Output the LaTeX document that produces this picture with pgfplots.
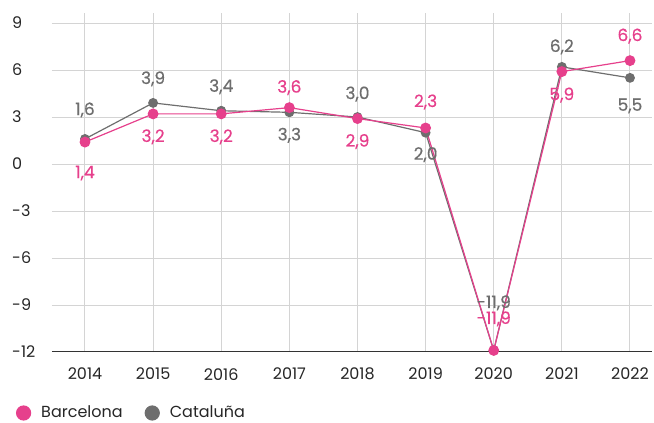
\documentclass[border=0pt]{standalone}
\usepackage{pgfplots}
\pgfplotsset{compat=1.18}
\usepackage{pgfplotstable}
\usepackage{fontspec}
\setmainfont{Poppins}
\newfontfamily\labfont{Poppins}[FakeBold=0.4]
\definecolor{pinkc}{HTML}{E6408C}
\definecolor{grayc}{HTML}{6E6E6E}
\definecolor{gridc}{HTML}{D4D4D4}
\definecolor{topgrid}{HTML}{E2E2E2}
\definecolor{axisc}{HTML}{333333}

\pgfplotstableread{
x y lab off
2014 1.4 1,4 -31
2015 3.2 3,2 -23
2016 3.2 3,2 -23
2017 3.6 3,6 20
2018 2.9 2,9 -23
2019 2.3 2,3 26
2020 -11.9 -11,9 31.5
2021 5.9 5,9 -23.5
2022 6.6 6,6 24.6
}\barcelona

\pgfplotstableread{
x y lab off
2014 1.6 1,6 29
2015 3.9 3,9 24
2016 3.4 3,4 24
2017 3.3 3,3 -23
2018 3.0 3,0 23
2019 2.0 2,0 -22
2020 -11.9 -11,9 47.5
2021 6.2 6,2 20
2022 5.5 5,5 -28
}\cataluna

\begin{document}
\fontsize{16}{19}\selectfont
\begin{tikzpicture}
\useasboundingbox (-52pt,-71pt) rectangle (602pt,352pt);
\begin{axis}[
  at={(0,0)}, anchor=south west,
  scale only axis, width=600pt, height=339pt,
  xmin=2013.516, xmax=2022.323,
  ymin=-12, ymax=9.64,
  clip=false,
  xtick={2014,2015,2016,2017,2018,2019,2020,2021,2022},
  xticklabels={2014,2015,2016,2017,2018,2019,2020,2021,2022},
  ytick={-12,-9,-6,-3,0,3,6},
  yticklabels={-12,-9,-6,-3,0,3,6},
  extra y ticks={9},
  extra y tick labels={9},
  extra y tick style={grid style={draw=topgrid, line width=2pt}},
  grid=major,
  major grid style={draw=gridc, line width=1pt},
  major tick length=0pt,
  axis x line*=bottom,
  axis y line*=left,
  x axis line style={draw=axisc, line width=1pt, -},
  y axis line style={draw=none},
  xticklabel style={anchor=north, inner sep=0pt, yshift=-16pt, text=black!85},
  yticklabel style={anchor=west, inner sep=0pt, xshift=-40pt, text=black!85},
  legend columns=2,
  reverse legend,
  legend style={draw=none, fill=none, inner sep=0pt, outer sep=0pt,
    at={(0,0)}, anchor=west, xshift=-36pt, yshift=-61pt,
    nodes={inner sep=0pt, text=black!85},
    /tikz/every odd column/.append style={column sep=10pt},
    /tikz/every even column/.append style={column sep=22pt}},
  legend image code/.code={\fill[#1] (7pt,0pt) circle (7pt);},
  nodes near coords,
  point meta=explicit symbolic,
]
\addplot[color=grayc, line width=1.2pt, mark=*, mark size=4.3pt,
  visualization depends on={\thisrow{off}\as\myoff},
  nodes near coords style={anchor=center, yshift=\myoff, text=grayc, inner sep=0pt, font=\labfont\fontsize{17}{20}\selectfont}]
  table[x=x, y=y, meta=lab] {\cataluna};
\addlegendentry{Cataluña}
\addplot[color=pinkc, line width=1.2pt, mark=*, mark size=4.8pt,
  visualization depends on={\thisrow{off}\as\myoff},
  nodes near coords style={anchor=center, yshift=\myoff, text=pinkc, inner sep=0pt, font=\labfont\fontsize{17}{20}\selectfont}]
  table[x=x, y=y, meta=lab] {\barcelona};
\addlegendentry{Barcelona}
\end{axis}
\end{tikzpicture}
\end{document}
